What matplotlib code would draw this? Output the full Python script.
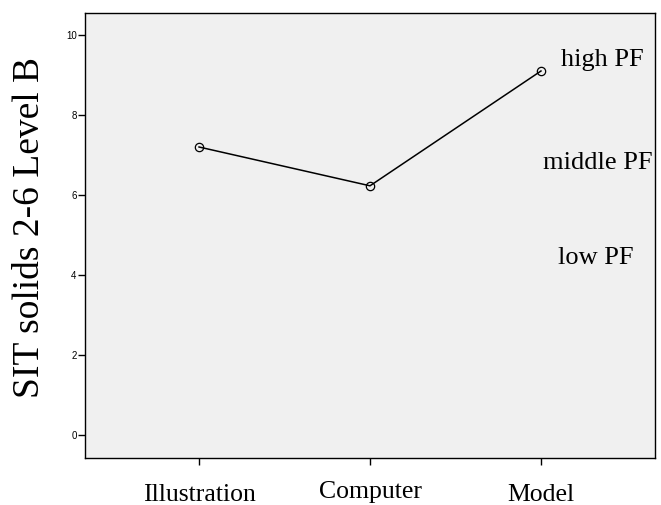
import matplotlib
matplotlib.use("Agg")
import matplotlib.pyplot as plt

categories = ["Illustration", "Computer", "Model"]
values = [7.2, 6.23, 9.1]
yticks = [0, 2, 4, 6, 8, 10]
group_labels = ["high PF", "middle PF", "low PF"]
group_label_y = [9.37, 6.8, 4.43]
group_label_x = [2.36, 2.33, 2.32]

fig = plt.figure(figsize=(6.61, 5.05), dpi=100)
ax = fig.add_axes([85/661, 1 - 458/505, 570/661, 445/505])
ax.set_facecolor("#F0F0F0")
x = list(range(len(categories)))
ax.plot(x, values, color="black", linewidth=1.1, marker="o", markersize=6,
        markerfacecolor="none", markeredgecolor="black", markeredgewidth=0.9)
ax.set_xlim(-0.667, 2.667)
ax.set_ylim(-0.575, 10.55)
ax.set_yticks(yticks)
ax.set_yticklabels([str(t) for t in yticks], fontsize=7, family="Liberation Sans")
ax.set_xticks(x)
ax.set_xticklabels(categories, fontsize=18.5, family="Liberation Serif")
ax.tick_params(axis="x", length=5, width=1, pad=14)
ax.tick_params(axis="y", length=5, width=1, pad=1)
for lbl in ax.get_xticklabels():
    if lbl.get_text() == "Computer":
        lbl.set_y(0.008)
for s in ax.spines.values():
    s.set_linewidth(1.0)
fig.text(30/661, 1 - 227/505, "SIT solids 2-6 Level B", rotation=90,
         ha="center", va="center", fontsize=27, family="Liberation Serif")
for t, gx, gy in zip(group_labels, group_label_x, group_label_y):
    ax.text(gx, gy, t, ha="center", va="center", fontsize=19, family="Liberation Serif")
fig.savefig("out.png", dpi=100)
